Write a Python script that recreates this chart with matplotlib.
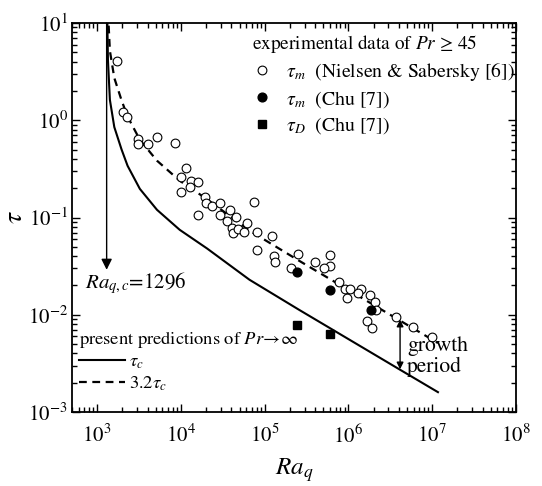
import matplotlib
matplotlib.use('Agg')
import matplotlib.pyplot as plt
from matplotlib.lines import Line2D
from matplotlib.ticker import LogLocator, LogFormatterMathtext, NullFormatter

plt.rcParams['font.family'] = ['STIXGeneral', 'DejaVu Serif']
plt.rcParams['mathtext.fontset'] = 'stix'

# present predictions (Pr -> infinity)
ra_c = [1305, 1343, 1417, 1600, 1954, 2305, 3228, 5170, 9660, 20500, 65800, 259000, 4.13e6, 1.17e7]
tau_c = [20.0, 4.17, 1.62, 0.85, 0.50, 0.34, 0.197, 0.12, 0.0747, 0.048, 0.0229, 0.0112, 2.72e-3, 1.6e-3]
tau_32c = [64.0, 13.3, 5.18, 2.72, 1.60, 1.09, 0.630, 0.384, 0.239, 0.154, 0.0733, 0.0358, 8.70e-3, 5.12e-3]

# experimental data: Nielsen & Sabersky [6]
ra_ns = [1700, 2040, 2280, 3080, 3080, 4050, 5180, 8420, 11400, 10100, 13100, 16000, 12700, 10100,
         19100, 20100, 23200, 29100, 16000, 73500, 38700, 29100, 44800, 35700, 61100, 40500, 41600,
         48600, 56200, 80400, 122500, 81300, 130600, 131600, 250000, 393600, 605000, 208000, 605000,
         509000, 760000, 906000, 1.04e6, 957000, 1.41e6, 1.31e6, 1.80e6, 2.08e6, 2.12e6, 1.68e6,
         1.90e6, 3.67e6, 5.94e6, 1.0e7]
tau_ns = [4.10, 1.22, 1.07, 0.638, 0.571, 0.571, 0.669, 0.580, 0.321, 0.263, 0.239, 0.231, 0.205, 0.185,
          0.162, 0.140, 0.1315, 0.140, 0.1064, 0.1445, 0.1197, 0.1064, 0.102, 0.0929, 0.0873, 0.0787, 0.0695,
          0.0759, 0.0716, 0.0706, 0.0647, 0.0465, 0.0403, 0.0350, 0.0420, 0.0348, 0.0413, 0.0301, 0.0318,
          0.0299, 0.0219, 0.0186, 0.0186, 0.0148, 0.0186, 0.0167, 0.0159, 0.01367, 0.01122, 0.00871,
          0.00728, 0.00944, 0.00746, 0.00593]

# Chu [7]
ra_chu_m = [2.43e5, 6.05e5, 1.85e6]
tau_chu_m = [0.0274, 0.0180, 0.0112]
ra_chu_D = [2.42e5, 6.05e5]
tau_chu_D = [7.9e-3, 6.4e-3]

ra_crit = 1296
tau_arrow_end = 0.029
ra_growth = 4.13e6
growth_top, growth_bot = 8.9e-3, 2.75e-3

fig = plt.figure(figsize=(5.42, 4.86), dpi=100)
ax = fig.add_axes([72/542, 1-412/486, 444/542, 389/486])
ax.set_xscale('log')
ax.set_yscale('log')
ax.set_xlim(500, 1e8)
ax.set_ylim(1e-3, 10)

ax.plot(ra_c, tau_c, color='k', lw=1.5)
ax.plot(ra_c, tau_32c, color='k', lw=1.6, ls=(0, (3.5, 2.5)))
ax.plot(ra_ns, tau_ns, ls='none', marker='o', ms=6.3, mfc='white', mec='k', mew=0.8)
ax.plot(ra_chu_m, tau_chu_m, ls='none', marker='o', ms=6.3, mfc='k', mec='k')
ax.plot(ra_chu_D, tau_chu_D, ls='none', marker='s', ms=5.8, mfc='k', mec='k')

ax.annotate('', xy=(ra_crit, tau_arrow_end), xytext=(ra_crit, 10),
            arrowprops=dict(arrowstyle='-|>', color='k', lw=1.0, mutation_scale=16, shrinkA=0, shrinkB=0))
ax.text(714, 0.0213, r'$Ra_{q,c}$=1296', fontsize=15, va='center', ha='left')

ax.annotate('', xy=(ra_growth, growth_bot), xytext=(ra_growth, growth_top),
            arrowprops=dict(arrowstyle='<|-|>', color='k', lw=1.0, mutation_scale=10, shrinkA=0, shrinkB=0))
ax.text(5.0e6, 3.7e-3, 'growth\nperiod', fontsize=15.5, va='center', ha='left', linespacing=1.05)

for axis in (ax.xaxis, ax.yaxis):
    axis.set_major_locator(LogLocator(base=10, numticks=20))
    axis.set_minor_locator(LogLocator(base=10, subs=range(2, 10), numticks=20))
    axis.set_major_formatter(LogFormatterMathtext())
    axis.set_minor_formatter(NullFormatter())
ax.tick_params(which='both', direction='in', top=True, right=True, width=1.0)
ax.tick_params(which='major', length=6, labelsize=15)
ax.tick_params(axis='x', which='major', pad=9)
ax.tick_params(axis='y', which='major', pad=3)
ax.tick_params(which='minor', length=3.5)
for s in ax.spines.values():
    s.set_linewidth(1.3)

ax.set_xlabel(r'$Ra_q$', fontsize=18)
ax.xaxis.set_label_coords(0.5, -0.113)
ax.set_ylabel(r'$\tau$', fontsize=20)
ax.yaxis.set_label_coords(-0.1, 0.5)

h1 = [Line2D([], [], ls='none', marker='o', ms=6.3, mfc='white', mec='k', mew=0.8),
      Line2D([], [], ls='none', marker='o', ms=6.3, mfc='k', mec='k'),
      Line2D([], [], ls='none', marker='s', ms=5.8, mfc='k', mec='k')]
l1 = [r'$\tau_m$  (Nielsen & Sabersky [6])', r'$\tau_m$  (Chu [7])', r'$\tau_D$  (Chu [7])']
leg1 = ax.legend(h1, l1, title='experimental data of $Pr$ \u2265 45', loc='upper right',
                 bbox_to_anchor=(1.012, 0.99), frameon=False, fontsize=14.2, title_fontsize=13.9,
                 handlelength=1.0, handletextpad=0.75, labelspacing=0.3, borderaxespad=0.1,
                 borderpad=0.2)
leg1._legend_box.align = 'left'
ax.add_artist(leg1)

h2 = [Line2D([], [], color='k', lw=1.5),
      Line2D([], [], color='k', lw=1.6, ls=(0, (3.5, 2.5)))]
l2 = [r'$\tau_c$', r'$3.2\tau_c$']
leg2 = ax.legend(h2, l2, title=r'present predictions of $Pr\!\rightarrow\!\infty$', loc='lower left',
                 bbox_to_anchor=(-0.005, 0.025), frameon=False, fontsize=13.3, title_fontsize=13.3,
                 handlelength=2.5, handletextpad=0.2, labelspacing=0.2, borderaxespad=0.3,
                 borderpad=0.2)
leg2._legend_box.align = 'left'

fig.savefig('out.png', dpi=100)
